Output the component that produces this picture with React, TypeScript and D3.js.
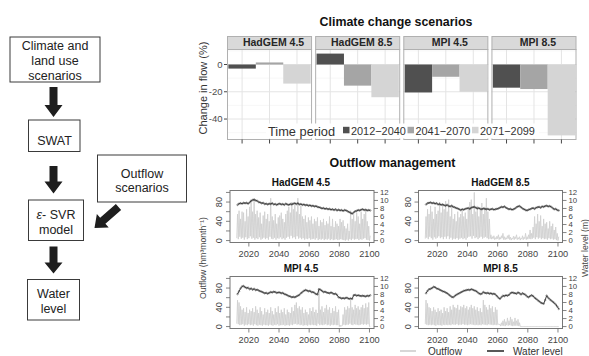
import React, { useEffect, useRef } from 'react';
import * as d3 from 'd3';

// ---- Climate change scenarios (change in flow, %) ----
const scenarios = ['HadGEM 4.5', 'HadGEM 8.5', 'MPI 4.5', 'MPI 8.5'];
const periods = ['2012\u22122040', '2041\u22122070', '2071\u22122099'];
const periodColors = ['#505050', '#a5a5a5', '#d5d5d5'];
const hadgem45Change = [-3, 1.5, -14];
const hadgem85Change = [8, -15.5, -24];
const mpi45Change = [-20.5, -9, -20];
const mpi85Change = [-17, -18, -52];
const changeTicks = [0, -20, -40];
const changeMinorTicks = [10, -10, -30, -50];

// ---- Outflow management (2012-2100) ----
const firstYear = 2012;
const lastYear = 2100;
const yearTicks = [2020, 2040, 2060, 2080, 2100];
const outflowTicks = [0, 20, 40, 60, 80, 100];
const outflowLabels = [0, 40, 80];
const levelTicks = [0, 2, 4, 6, 8, 10, 12];

// yearly outflow peaks / lows (hm3/month) and water level (m)
const hadgem45Peak = [
  55, 62, 45, 60, 58, 40, 65, 50, 70, 85,
  60, 88, 55, 62, 48, 58, 35, 52, 60, 45,
  55, 40, 88, 50, 42, 55, 35, 48, 52, 58,
  45, 38, 55, 62, 70, 58, 80, 65, 75, 60,
  88, 55, 72, 50, 45, 52, 38, 48, 42, 50,
  35, 45, 40, 48, 30, 42, 38, 45, 32, 40,
  35, 50, 30, 45, 28, 40, 35, 30, 45, 38,
  42, 30, 25, 35, 20, 62, 45, 55, 40, 58,
  50, 35, 60, 45, 55, 62, 40, 30, 10,
];
const hadgem45Low = [
  5, 3, 8, 4, 6, 2, 7, 3, 5, 9,
  4, 6, 2, 5, 3, 7, 2, 4, 6, 3,
  5, 2, 8, 4, 3, 6, 2, 5, 4, 7,
  3, 5, 2, 6, 8, 4, 10, 5, 7, 3,
  9, 4, 6, 3, 5, 2, 4, 3, 5, 2,
  3, 4, 2, 5, 1, 3, 2, 4, 1, 3,
  2, 4, 1, 3, 1, 2, 3, 1, 2, 3,
  2, 1, 0, 2, 0, 3, 1, 4, 2, 3,
  4, 1, 3, 2, 4, 5, 2, 1, 0,
];
const hadgem45Level = [
  8.9, 9.2, 9.3, 9.2, 9.4, 9.3, 9.4, 9.2, 9.5, 9.9,
  10.1, 10.2, 10.0, 9.9, 9.6, 9.5, 9.3, 9.4, 9.1, 9.2,
  9.0, 9.2, 9.1, 9.3, 9.0, 9.1, 8.9, 9.1, 9.2, 9.0,
  9.1, 8.9, 9.2, 9.0, 8.9, 9.1, 9.0, 9.2, 9.3, 9.1,
  9.3, 9.0, 9.1, 8.9, 9.0, 8.8, 8.9, 8.7, 8.8, 8.6,
  8.7, 8.5, 8.6, 8.4, 8.3, 8.2, 8.0, 8.1, 7.9, 8.0,
  7.8, 7.9, 7.7, 7.8, 7.6, 7.8, 7.5, 7.7, 7.5, 7.6,
  7.4, 7.6, 7.5, 7.3, 7.1, 6.9, 6.7, 7.0, 7.3, 7.4,
  7.6, 7.5, 7.7, 7.8, 7.6, 7.7, 7.5, 7.6, 7.5,
];

const hadgem85Peak = [
  50, 65, 55, 72, 60, 45, 70, 55, 62, 80,
  58, 75, 65, 82, 60, 85, 50, 70, 45, 55,
  40, 60, 48, 55, 62, 50, 58, 45, 65, 80,
  85, 55, 100, 60, 72, 50, 65, 78, 55, 70,
  88, 60, 45, 12, 8, 10, 6, 9, 12, 7,
  10, 15, 8, 6, 10, 12, 7, 5, 9, 8,
  12, 6, 8, 5, 10, 7, 15, 8, 12, 22,
  15, 28, 50, 35, 55, 40, 52, 30, 45, 35,
  38, 25, 40, 30, 35, 22, 28, 15, 8,
];
const hadgem85Low = [
  4, 6, 3, 8, 5, 2, 7, 4, 6, 9,
  5, 7, 3, 8, 4, 9, 3, 6, 2, 4,
  3, 5, 2, 4, 6, 3, 5, 2, 6, 8,
  9, 4, 10, 5, 7, 3, 6, 8, 4, 6,
  8, 5, 3, 4, 3, 4, 2, 3, 4, 2,
  3, 5, 2, 2, 3, 4, 2, 1, 3, 2,
  4, 2, 3, 1, 3, 2, 4, 2, 3, 4,
  3, 4, 6, 3, 7, 4, 6, 3, 5, 3,
  4, 2, 5, 3, 4, 2, 3, 1, 0,
];
const hadgem85Level = [
  9.0, 9.3, 9.4, 9.5, 9.3, 9.4, 9.2, 9.3, 9.0, 9.1,
  8.9, 9.0, 8.8, 8.7, 8.9, 8.6, 8.5, 8.7, 8.4, 8.3,
  8.1, 8.0, 7.8, 7.6, 7.8, 7.7, 7.9, 8.0, 8.1, 7.9,
  8.2, 8.3, 8.4, 8.2, 8.0, 8.1, 7.9, 7.8, 8.0, 7.9,
  7.8, 7.9, 7.7, 7.8, 7.9, 7.7, 7.8, 7.9, 8.0, 8.2,
  8.4, 8.3, 8.5, 8.2, 8.0, 7.8, 7.9, 7.7, 7.8, 8.0,
  8.3, 8.5, 8.6, 8.3, 8.0, 7.8, 7.6, 7.5, 7.7, 7.8,
  8.0, 8.1, 7.9, 8.2, 8.3, 8.4, 8.2, 8.5, 8.4, 8.6,
  8.7, 8.5, 8.6, 8.4, 8.1, 7.8, 7.9, 7.6, 7.5,
];

const mpi45Peak = [
  55, 50, 42, 35, 38, 30, 40, 28, 35, 32,
  38, 30, 42, 35, 28, 40, 32, 25, 38, 30,
  35, 28, 40, 32, 25, 38, 30, 42, 28, 35,
  30, 38, 25, 35, 30, 28, 40, 32, 45, 50,
  38, 42, 35, 40, 28, 35, 30, 25, 38, 32,
  40, 30, 35, 28, 80, 35, 42, 30, 38, 45,
  35, 40, 28, 38, 32, 42, 30, 35, 3, 2,
  25, 40, 35, 42, 38, 55, 40, 35, 45, 38,
  42, 35, 40, 45, 38, 48, 40, 50, 0,
];
const mpi45Low = [
  6, 5, 3, 4, 5, 2, 4, 3, 5, 3,
  4, 2, 5, 3, 2, 4, 3, 2, 4, 3,
  3, 2, 4, 3, 2, 4, 3, 5, 2, 3,
  3, 4, 2, 3, 3, 2, 4, 3, 5, 6,
  4, 5, 3, 4, 2, 3, 3, 2, 4, 3,
  4, 3, 3, 2, 6, 3, 4, 3, 4, 5,
  3, 4, 2, 4, 3, 4, 3, 3, 0, 0,
  2, 4, 3, 4, 4, 6, 4, 3, 5, 4,
  4, 3, 4, 5, 4, 5, 4, 5, 0,
];
const mpi45Level = [
  8.1, 8.8, 9.5, 10.0, 10.1, 9.8, 9.6, 9.7, 9.3, 9.5,
  9.2, 9.4, 9.1, 9.2, 9.0, 8.8, 8.7, 8.5, 8.3, 8.4,
  8.2, 8.4, 8.6, 8.5, 8.7, 8.6, 8.4, 8.5, 8.5, 8.3,
  8.4, 8.1, 8.0, 7.8, 7.6, 7.5, 7.3, 7.4, 7.3, 7.5,
  7.7, 7.9, 8.3, 8.6, 8.9, 9.1, 9.0, 8.8, 8.9, 8.6,
  8.6, 8.4, 8.1, 8.0, 9.3, 9.2, 8.9, 8.6, 8.7, 8.5,
  8.4, 8.3, 8.5, 8.3, 8.1, 8.2, 7.9, 7.3, 7.2, 7.0,
  7.1, 7.0, 7.2, 7.1, 6.9, 7.0, 6.9, 7.8, 7.9, 7.7,
  7.8, 7.7, 7.6, 7.7, 7.6, 7.5, 7.7, 7.6, 7.8,
];

const mpi85Peak = [
  55, 48, 40, 38, 32, 40, 35, 30, 38, 32,
  35, 28, 40, 32, 38, 30, 42, 35, 45, 40,
  38, 45, 35, 42, 40, 45, 38, 42, 35, 40,
  45, 38, 42, 35, 40, 32, 38, 30, 55, 45,
  40, 35, 45, 38, 42, 30, 40, 35, 5, 5,
  8, 12, 15, 10, 18, 12, 20, 15, 10, 18,
  12, 15, 8, 0, 0, 0, 0, 0, 0, 0,
  0, 0, 0, 0, 0, 0, 0, 0, 0, 0,
  0, 0, 0, 0, 0, 0, 0, 0, 0,
];
const mpi85Low = [
  5, 4, 3, 4, 3, 4, 3, 2, 4, 3,
  3, 2, 4, 3, 4, 3, 4, 3, 5, 4,
  4, 5, 3, 4, 4, 5, 4, 4, 3, 4,
  5, 4, 4, 3, 4, 3, 4, 3, 5, 4,
  4, 3, 5, 4, 4, 3, 4, 3, 4, 4,
  1, 2, 2, 1, 3, 2, 3, 2, 1, 2,
  2, 2, 1, 0, 0, 0, 0, 0, 0, 0,
  0, 0, 0, 0, 0, 0, 0, 0, 0, 0,
  0, 0, 0, 0, 0, 0, 0, 0, 0,
];
const mpi85Level = [
  8.3, 8.9, 9.3, 9.4, 9.6, 9.9, 9.8, 9.5, 9.4, 9.2,
  9.0, 8.8, 8.7, 8.5, 8.3, 8.0, 7.7, 7.4, 7.3, 7.6,
  7.9, 8.1, 8.3, 8.5, 8.7, 8.9, 9.0, 9.1, 9.2, 9.1,
  9.3, 9.2, 9.0, 8.9, 8.6, 8.3, 8.1, 8.2, 8.6, 8.4,
  8.3, 8.4, 8.2, 8.3, 8.1, 8.2, 8.0, 7.6, 7.2, 6.9,
  7.3, 7.7, 7.6, 7.8, 7.7, 7.9, 8.3, 8.5, 8.4, 8.3,
  8.2, 8.5, 8.3, 8.0, 8.3, 8.1, 7.9, 7.5, 7.3, 7.6,
  7.8, 7.6, 7.2, 6.9, 6.6, 6.3, 6.0, 5.8, 5.7, 6.6,
  7.7, 7.2, 6.8, 6.5, 6.2, 5.9, 5.5, 5.0, 4.4,
];

const FONT = '"Liberation Sans", Arial, Helvetica, sans-serif';

// polygon for a fat block arrow from (x1,y1) to tip (x2,y2)
const blockArrow = (x1, y1, x2, y2, shaftW, headW, headL) => {
  const len = Math.hypot(x2 - x1, y2 - y1);
  const ux = (x2 - x1) / len, uy = (y2 - y1) / len;
  const px = -uy, py = ux;
  const bx = x2 - ux * headL, by = y2 - uy * headL;
  const pts = [
    [x1 + px * shaftW / 2, y1 + py * shaftW / 2],
    [bx + px * shaftW / 2, by + py * shaftW / 2],
    [bx + px * headW / 2, by + py * headW / 2],
    [x2, y2],
    [bx - px * headW / 2, by - py * headW / 2],
    [bx - px * shaftW / 2, by - py * shaftW / 2],
    [x1 - px * shaftW / 2, y1 - py * shaftW / 2],
  ];
  return pts.map(p => p.join(',')).join(' ');
};

const App = () => {
  const svgRef = useRef(null);

  useEffect(() => {
    const svg = d3.select(svgRef.current);
    svg.selectAll('*').remove();
    svg.attr('font-family', FONT);

    // ================= Flowchart =================
    const flow = svg.append('g');
    const boxes = [
      { x: 10, y: 37, w: 90, h: 45, cx: 55, lines: [['Climate and', 50], ['land use', 65], ['scenarios', 79.5]] },
      { x: 28.5, y: 120, w: 51.5, h: 31.5, cx: 54.5, lines: [['SWAT', 145]] },
      { x: 28.5, y: 200, w: 55, h: 40.5, cx: 56, lines: [['SVR', 219], ['model', 234]] },
      { x: 97.5, y: 155, w: 89, h: 47, cx: 142, lines: [['Outflow', 178], ['scenarios', 192]] },
      { x: 27.5, y: 279.5, w: 52, h: 40.5, cx: 53.5, lines: [['Water', 298], ['level', 312.5]] },
    ];
    boxes.forEach((b, bi) => {
      flow.append('rect')
        .attr('x', b.x).attr('y', b.y).attr('width', b.w).attr('height', b.h)
        .attr('fill', 'white').attr('stroke', '#3a3a3a').attr('stroke-width', 1);
      b.lines.forEach(([t, y], li) => {
        const txt = flow.append('text')
          .attr('x', b.cx).attr('y', y)
          .attr('text-anchor', 'middle')
          .attr('font-size', 12.5)
          .attr('fill', '#222');
        if (bi === 2 && li === 0) {
          txt.append('tspan').attr('font-style', 'italic').text('\u03b5');
          txt.append('tspan').text('- SVR');
        } else {
          txt.text(t);
        }
      });
    });
    const arrows = [
      [53.5, 87, 53.5, 117, 12],
      [53.5, 166, 53.5, 193.5, 12],
      [53.5, 246.5, 53.5, 273.5, 11],
    ];
    arrows.forEach(([x1, y1, x2, y2, hl]) => {
      flow.append('polygon')
        .attr('points', blockArrow(x1, y1, x2, y2, 8, 18, hl))
        .attr('fill', '#1e1e1e');
    });
    flow.append('polygon')
      .attr('points', blockArrow(118.5, 207, 94.5, 228, 8, 18, 11))
      .attr('fill', '#1e1e1e');

    // ================= Climate change scenarios =================
    const top = svg.append('g');
    top.append('text')
      .attr('x', 396).attr('y', 26)
      .attr('text-anchor', 'middle')
      .attr('font-size', 12.4).attr('font-weight', 'bold')
      .attr('fill', '#111')
      .text('Climate change scenarios');

    const changeSeries = [hadgem45Change, hadgem85Change, mpi45Change, mpi85Change];
    const allChange = changeSeries.flat().concat([0]);
    const cMin = d3.min(allChange), cMax = d3.max(allChange);
    const cPad = (cMax - cMin) * 0.05;
    const plotTop = 49.5, plotBottom = 139.5, stripTop = 36.5;
    const yChange = d3.scaleLinear()
      .domain([cMin - cPad, cMax + cPad])
      .range([plotBottom, plotTop]);

    const xFacet = d3.scaleBand()
      .domain(scenarios)
      .range([227, 576.5])
      .paddingInner(0.035);
    const bw = xFacet.bandwidth();

    scenarios.forEach((s, si) => {
      const g = top.append('g').attr('transform', `translate(${xFacet(s)},0)`);
      const xBar = d3.scaleBand().domain(periods).range([0, bw]).paddingInner(0).paddingOuter(0.05);

      g.append('rect')
        .attr('x', 0).attr('y', plotTop).attr('width', bw).attr('height', plotBottom - plotTop)
        .attr('fill', 'white');

      // grid
      changeMinorTicks.forEach(v => {
        g.append('line')
          .attr('x1', 0).attr('x2', bw).attr('y1', yChange(v)).attr('y2', yChange(v))
          .attr('stroke', '#f2f2f2').attr('stroke-width', 0.6);
      });
      changeTicks.forEach(v => {
        g.append('line')
          .attr('x1', 0).attr('x2', bw).attr('y1', yChange(v)).attr('y2', yChange(v))
          .attr('stroke', '#e4e4e4').attr('stroke-width', 1);
      });
      periods.forEach(p => {
        const cx = xBar(p) + xBar.bandwidth() / 2;
        g.append('line')
          .attr('x1', cx).attr('x2', cx).attr('y1', plotTop).attr('y2', plotBottom)
          .attr('stroke', '#e4e4e4').attr('stroke-width', 1);
      });

      // bars
      changeSeries[si].forEach((v, i) => {
        const y0 = yChange(Math.max(0, v));
        const y1 = yChange(Math.min(0, v));
        g.append('rect')
          .attr('x', xBar(periods[i])).attr('y', y0)
          .attr('width', xBar.bandwidth()).attr('height', Math.max(1.2, y1 - y0))
          .attr('fill', periodColors[i]);
      });

      // panel border
      g.append('rect')
        .attr('x', 0.5).attr('y', plotTop).attr('width', bw - 1).attr('height', plotBottom - plotTop)
        .attr('fill', 'none').attr('stroke', '#b0b0b0').attr('stroke-width', 1);

      // strip
      g.append('rect')
        .attr('x', 0.5).attr('y', stripTop).attr('width', bw - 1).attr('height', plotTop - stripTop)
        .attr('fill', '#d9d9d9').attr('stroke', '#b0b0b0').attr('stroke-width', 1);
      g.append('text')
        .attr('x', bw / 2 + 4).attr('y', plotTop - 3.2)
        .attr('text-anchor', 'middle')
        .attr('font-size', 10.5).attr('font-weight', 'bold')
        .attr('fill', '#262626')
        .text(s);

      // x ticks
      periods.forEach(p => {
        const cx = xBar(p) + xBar.bandwidth() / 2;
        g.append('line')
          .attr('x1', cx).attr('x2', cx).attr('y1', plotBottom).attr('y2', plotBottom + 4)
          .attr('stroke', '#333').attr('stroke-width', 0.9);
      });
    });

    // y axis
    const leftX = xFacet(scenarios[0]);
    changeTicks.forEach(v => {
      top.append('line')
        .attr('x1', leftX - 3).attr('x2', leftX).attr('y1', yChange(v)).attr('y2', yChange(v))
        .attr('stroke', '#333').attr('stroke-width', 0.9);
      top.append('text')
        .attr('x', leftX - 4.5).attr('y', yChange(v) + 3.3)
        .attr('text-anchor', 'end')
        .attr('font-size', 9.5).attr('fill', '#4d4d4d')
        .text(v === 0 ? '0' : `-${Math.abs(v)}`);
    });
    top.append('text')
      .attr('transform', `translate(${207},${88}) rotate(-90)`)
      .attr('text-anchor', 'middle')
      .attr('font-size', 11).attr('fill', '#333')
      .text('Change in flow (%)');

    // legend
    const lg = top.append('g');
    lg.append('rect')
      .attr('x', 266).attr('y', 123.5).attr('width', 273).attr('height', 15)
      .attr('fill', 'white');
    lg.append('text')
      .attr('x', 268).attr('y', 136)
      .attr('font-size', 12.8).attr('fill', '#333')
      .text('Time period');
    const keyX = [343, 407.5, 472];
    periods.forEach((p, i) => {
      lg.append('rect')
        .attr('x', keyX[i]).attr('y', 126.8).attr('width', 6.5).attr('height', 6.5)
        .attr('fill', periodColors[i]);
      lg.append('text')
        .attr('x', keyX[i] + 8).attr('y', 135)
        .attr('font-size', 10.9).attr('fill', '#333')
        .text(p);
    });

    // ================= Outflow management =================
    const bot = svg.append('g');
    bot.append('text')
      .attr('x', 392.5).attr('y', 166.5)
      .attr('text-anchor', 'middle')
      .attr('font-size', 12.4).attr('font-weight', 'bold')
      .attr('fill', '#111')
      .text('Outflow management');

    const years = d3.range(firstYear, lastYear + 1);
    const panels = [
      { name: 'HadGEM 4.5', peak: hadgem45Peak, low: hadgem45Low, level: hadgem45Level, col: 0, row: 0 },
      { name: 'HadGEM 8.5', peak: hadgem85Peak, low: hadgem85Low, level: hadgem85Level, col: 1, row: 0 },
      { name: 'MPI 4.5', peak: mpi45Peak, low: mpi45Low, level: mpi45Level, col: 0, row: 1 },
      { name: 'MPI 8.5', peak: mpi85Peak, low: mpi85Low, level: mpi85Level, col: 1, row: 1 },
    ];
    const colX = [230, 418.5];
    const rowY = [190.5, 276.5];
    const pw = 144, ph = 52;

    panels.forEach(p => {
      const x0 = colX[p.col], y0 = rowY[p.row];
      const g = bot.append('g').attr('transform', `translate(${x0},${y0})`);
      const xYear = d3.scaleLinear().domain([2007.5, 2103]).range([0, pw]);
      const yFlow = d3.scaleLinear().domain([-4, 104]).range([ph, 0]);
      const yLevel = d3.scaleLinear().domain([-0.48, 12.48]).range([ph, 0]);

      const flowPts = years.flatMap((yr, i) => [[yr, p.low[i]], [yr + 0.5, p.peak[i]]]);
      g.append('path')
        .datum(flowPts)
        .attr('d', d3.line().x(d => xYear(d[0])).y(d => yFlow(d[1])))
        .attr('fill', 'none').attr('stroke', '#d0d0d0').attr('stroke-width', 0.9);

      const levelPts = years.map((yr, i) => [yr + 0.5, p.level[i]]);
      g.append('path')
        .datum(levelPts)
        .attr('d', d3.line().x(d => xYear(d[0])).y(d => yLevel(d[1])))
        .attr('fill', 'none').attr('stroke', '#3c3c3c').attr('stroke-width', 1);
      g.selectAll('circle.lv')
        .data(levelPts)
        .enter().append('circle')
        .attr('cx', d => xYear(d[0])).attr('cy', d => yLevel(d[1]))
        .attr('r', 0.8)
        .attr('fill', 'none').attr('stroke', '#3c3c3c').attr('stroke-width', 0.5);

      // box
      g.append('rect')
        .attr('x', 0).attr('y', 0).attr('width', pw).attr('height', ph)
        .attr('fill', 'none').attr('stroke', '#777').attr('stroke-width', 1);

      // x axis
      yearTicks.forEach(t => {
        g.append('line')
          .attr('x1', xYear(t)).attr('x2', xYear(t)).attr('y1', ph).attr('y2', ph + 4)
          .attr('stroke', '#666').attr('stroke-width', 0.8);
        g.append('text')
          .attr('x', xYear(t)).attr('y', ph + 14)
          .attr('text-anchor', 'middle')
          .attr('font-size', 9.2).attr('fill', '#444')
          .text(t);
      });

      // left axis (outflow)
      outflowTicks.forEach(t => {
        g.append('line')
          .attr('x1', -4).attr('x2', 0).attr('y1', yFlow(t)).attr('y2', yFlow(t))
          .attr('stroke', '#666').attr('stroke-width', 0.8);
      });
      outflowLabels.forEach(t => {
        g.append('text')
          .attr('transform', `translate(${-8},${yFlow(t)}) rotate(-90)`)
          .attr('text-anchor', 'middle')
          .attr('font-size', 9.2).attr('fill', '#444')
          .text(t);
      });

      // right axis (water level)
      levelTicks.forEach(t => {
        g.append('line')
          .attr('x1', pw).attr('x2', pw + 4).attr('y1', yLevel(t)).attr('y2', yLevel(t))
          .attr('stroke', '#666').attr('stroke-width', 0.8);
        g.append('text')
          .attr('x', pw + 6).attr('y', yLevel(t) + 2.8)
          .attr('font-size', 7.8).attr('fill', '#444')
          .text(t);
      });

      // title
      g.append('text')
        .attr('x', pw / 2 + (p.col === 1 ? 10 : -1)).attr('y', -5)
        .attr('text-anchor', 'middle')
        .attr('font-size', 10).attr('font-weight', 'bold')
        .attr('fill', '#111')
        .text(p.name);
    });

    // shared axis titles
    bot.append('text')
      .attr('transform', `translate(${205.5},${258}) rotate(-90)`)
      .attr('text-anchor', 'middle')
      .attr('font-size', 8.6).attr('fill', '#444')
      .text('Outflow (hm\u00b3month\u207b\u00b9)');
    bot.append('text')
      .attr('transform', `translate(${588},${248}) rotate(-90)`)
      .attr('text-anchor', 'middle')
      .attr('font-size', 8.6).attr('fill', '#444')
      .text('Water level (m)');

    // bottom legend
    bot.append('line')
      .attr('x1', 400).attr('x2', 416).attr('y1', 351).attr('y2', 351)
      .attr('stroke', '#bdbdbd').attr('stroke-width', 1.2);
    bot.append('text')
      .attr('x', 428).attr('y', 354.5)
      .attr('font-size', 10).attr('fill', '#333')
      .text('Outflow');
    bot.append('line')
      .attr('x1', 487).attr('x2', 504).attr('y1', 351).attr('y2', 351)
      .attr('stroke', '#111').attr('stroke-width', 1.4);
    bot.append('text')
      .attr('x', 513).attr('y', 354.5)
      .attr('font-size', 10).attr('fill', '#333')
      .text('Water level');
  }, []);

  return (
    <div style={{ position: 'absolute', left: 0, top: 0 }}>
      <svg ref={svgRef} width={589} height={356} style={{ display: 'block', background: 'white' }} />
    </div>
  );
};

export default App;
